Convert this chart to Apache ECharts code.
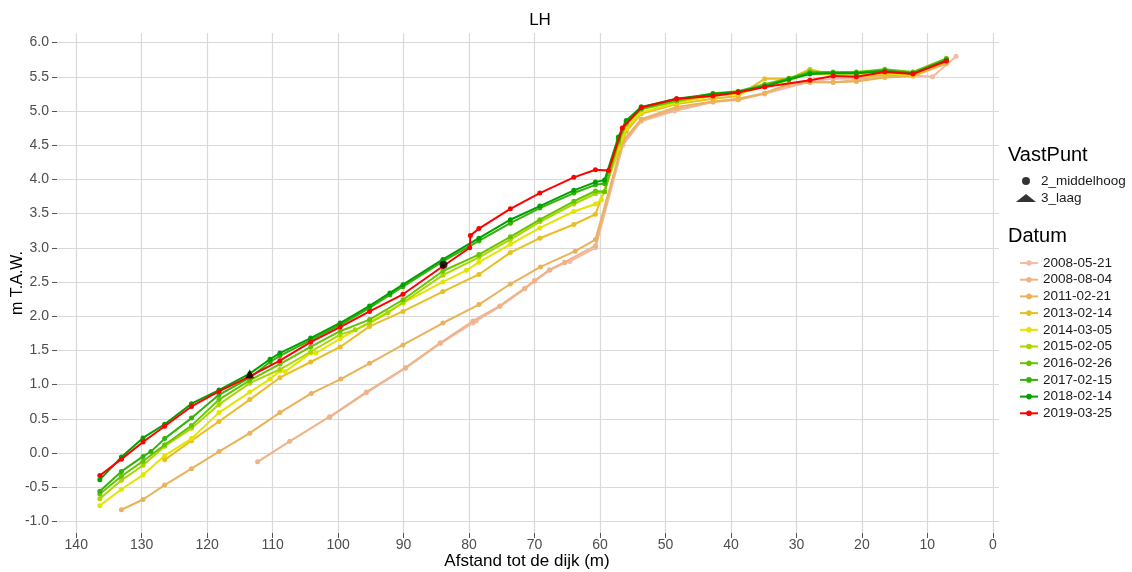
<!DOCTYPE html>
<html><head><meta charset="utf-8">
<script src="https://cdn.jsdelivr.net/npm/echarts@6/dist/echarts.min.js"></script>
<style>html,body{margin:0;padding:0;background:#fff}#c{width:1132px;height:572px}</style>
</head><body><div id="c"></div>
<script>
// ---- data ----
const datumNames = ['2008-05-21','2008-08-04','2011-02-21','2013-02-14','2014-03-05','2015-02-05','2016-02-26','2017-02-15','2018-02-14','2019-03-25'];
const d2008_05_21 = [[101.3,0.52],[95.7,0.88],[89.7,1.24],[84.4,1.60],[79.4,1.90],[78.9,1.93],[75.3,2.14],[71.5,2.40],[70.0,2.51],[67.7,2.67],[65.4,2.78],[64.6,2.80],[60.7,3.00],[56.5,4.50],[53.7,4.85],[48.6,5.00],[42.75,5.13],[38.9,5.16],[34.85,5.25],[27.95,5.43],[24.4,5.47],[20.85,5.47],[16.5,5.52],[12.2,5.52],[9.2,5.50],[5.6,5.80]];
const d2008_08_04 = [[112.3,-0.13],[107.4,0.17],[101.3,0.53],[95.7,0.89],[89.7,1.25],[84.4,1.61],[79.4,1.93],[75.3,2.15],[71.5,2.41],[70.0,2.52],[67.7,2.68],[65.4,2.79],[60.7,3.03],[56.5,4.55],[53.7,4.87],[48.3,5.03],[42.75,5.13],[38.9,5.18],[34.85,5.26],[31.15,5.38],[27.95,5.42],[24.4,5.42],[20.85,5.45],[16.5,5.50],[12.2,5.51],[7.1,5.69]];
const d2011_02_21 = [[133.1,-0.83],[129.8,-0.68],[126.5,-0.47],[122.4,-0.23],[118.2,0.02],[113.5,0.29],[108.9,0.59],[104.1,0.87],[99.6,1.08],[95.2,1.31],[90.1,1.58],[84.0,1.90],[78.5,2.17],[73.7,2.47],[69.1,2.72],[63.8,2.95],[60.7,3.12],[56.5,4.56],[53.7,4.88],[48.3,5.06],[42.75,5.14],[38.9,5.17],[34.85,5.26],[31.15,5.40],[27.95,5.42],[24.4,5.42],[20.85,5.43],[16.5,5.49],[12.2,5.51],[7.1,5.70]];
const d2013_02_14 = [[126.5,-0.10],[122.4,0.18],[118.2,0.46],[113.5,0.78],[108.9,1.10],[104.2,1.33],[99.7,1.55],[95.2,1.85],[90.1,2.07],[84.0,2.36],[78.5,2.61],[73.7,2.93],[69.2,3.14],[64.0,3.34],[60.7,3.49],[57.2,4.40],[56.0,4.70],[53.7,4.96],[48.3,5.10],[42.75,5.18],[38.9,5.22],[34.85,5.47],[31.15,5.47],[27.95,5.61],[24.4,5.52],[20.85,5.50],[16.5,5.53],[12.2,5.52],[7.1,5.72]];
const d2014_03_05 = [[136.4,-0.77],[133.1,-0.53],[129.8,-0.32],[126.5,-0.04],[122.4,0.21],[118.2,0.59],[113.5,0.89],[110.4,1.08],[108.9,1.20],[108.1,1.19],[104.2,1.46],[103.4,1.46],[99.7,1.67],[95.2,1.91],[90.1,2.19],[84.0,2.50],[80.4,2.67],[78.5,2.79],[73.7,3.05],[69.2,3.29],[64.0,3.53],[60.7,3.64],[59.8,3.70],[57.2,4.45],[56.0,4.75],[53.7,4.98],[48.3,5.12],[42.75,5.22],[38.9,5.25],[34.85,5.36],[31.15,5.45],[27.95,5.55],[24.4,5.53],[20.85,5.52],[16.5,5.55],[12.2,5.52],[7.1,5.74]];
const d2015_02_05 = [[136.4,-0.67],[133.1,-0.40],[129.8,-0.18],[126.5,0.10],[122.4,0.36],[118.2,0.71],[113.5,1.02],[108.9,1.22],[104.2,1.48],[99.7,1.73],[97.4,1.80],[95.2,1.90],[92.4,2.05],[90.1,2.20],[84.0,2.60],[78.5,2.86],[73.7,3.12],[69.2,3.38],[64.0,3.64],[60.7,3.79],[59.3,3.82],[57.2,4.52],[56.0,4.80],[53.7,5.02],[48.3,5.14],[42.75,5.24],[38.9,5.28],[34.85,5.38],[31.15,5.47],[27.95,5.59],[24.4,5.55],[20.85,5.55],[16.5,5.58],[12.2,5.55],[7.1,5.76]];
const d2016_02_26 = [[136.4,-0.60],[133.1,-0.34],[129.8,-0.12],[126.5,0.12],[122.4,0.40],[118.2,0.78],[113.5,1.06],[108.9,1.30],[104.2,1.55],[99.7,1.78],[95.2,1.95],[90.1,2.24],[84.0,2.66],[78.5,2.90],[73.7,3.16],[69.2,3.41],[64.0,3.68],[60.7,3.83],[59.3,3.82],[57.2,4.55],[56.0,4.82],[53.7,5.03],[48.3,5.15],[42.75,5.26],[38.9,5.29],[34.85,5.39],[31.15,5.48],[27.95,5.57],[24.4,5.57],[20.85,5.57],[16.5,5.61],[12.2,5.57],[7.1,5.77]];
const d2017_02_15 = [[136.4,-0.56],[133.1,-0.27],[129.8,-0.05],[128.6,0.02],[126.5,0.21],[122.4,0.51],[118.2,0.85],[113.5,1.10],[110.4,1.33],[108.9,1.42],[104.2,1.65],[99.7,1.87],[95.2,2.12],[92.1,2.31],[90.1,2.43],[84.0,2.80],[78.5,3.10],[73.7,3.36],[69.2,3.58],[64.0,3.80],[60.7,3.92],[59.3,3.94],[57.2,4.58],[56.0,4.84],[53.7,5.04],[48.3,5.17],[42.75,5.24],[38.9,5.28],[34.85,5.37],[31.15,5.47],[27.95,5.56],[24.4,5.56],[20.85,5.56],[16.5,5.59],[12.2,5.55],[7.1,5.75]];
const d2018_02_14 = [[136.4,-0.39],[133.1,-0.06],[129.8,0.22],[126.5,0.42],[122.4,0.72],[118.2,0.92],[113.5,1.16],[110.4,1.37],[108.9,1.46],[104.2,1.68],[99.7,1.90],[95.2,2.15],[92.1,2.34],[90.1,2.46],[84.0,2.83],[78.5,3.14],[73.7,3.41],[69.2,3.61],[64.0,3.84],[60.7,3.96],[59.3,3.99],[57.2,4.62],[56.0,4.86],[53.7,5.06],[48.3,5.18],[42.75,5.25],[38.9,5.28],[34.85,5.36],[31.15,5.46],[27.95,5.54],[24.4,5.55],[20.85,5.55],[16.5,5.58],[12.2,5.55],[7.1,5.74]];
const d2019_03_25 = [[136.4,-0.33],[133.1,-0.09],[129.8,0.16],[126.5,0.39],[122.4,0.68],[118.2,0.90],[113.5,1.12],[108.9,1.35],[104.2,1.62],[99.7,1.84],[95.2,2.07],[90.1,2.32],[84.0,2.73],[79.9,3.00],[79.8,3.18],[78.5,3.28],[73.7,3.57],[69.2,3.80],[64.0,4.03],[60.7,4.14],[58.7,4.13],[56.6,4.75],[53.7,5.05],[48.3,5.18],[42.75,5.22],[38.9,5.27],[34.85,5.35],[27.95,5.45],[24.4,5.51],[20.85,5.50],[16.5,5.57],[12.2,5.54],[7.1,5.73]];
const vastPuntNames = ['2_middelhoog','3_laag'];
const vp2_middelhoog = [[83.9,2.75]];
const vp3_laag = [[113.5,1.16]];
const xTickValues = [0,10,20,30,40,50,60,70,80,90,100,110,120,130,140];
const yTickValues = [-1,-0.5,0,0.5,1,1.5,2,2.5,3,3.5,4,4.5,5,5.5,6];
const xTitle = 'Afstand tot de dijk (m)';
const yTitle = 'm T.A.W.';
const chartTitle = 'LH';

// ---- chart ----
const datumData = [d2008_05_21,d2008_08_04,d2011_02_21,d2013_02_14,d2014_03_05,d2015_02_05,d2016_02_26,d2017_02_15,d2018_02_14,d2019_03_25];
const colors = ['#F2BBA6','#EEB488','#EAB25A','#E8BE24','#E4E400','#AAD600','#66C400','#33B20A','#00A000','#FF0000'];
const FONT = '"Liberation Sans", Arial, sans-serif';
const series = datumNames.map((n,i)=>({
  name:n, type:'line', data:datumData[i], color:colors[i],
  symbol:'circle', symbolSize:5, showSymbol:true,
  lineStyle:{width:2, color:colors[i]}, itemStyle:{color:colors[i]},
  z: 2+i*0.01, animation:false
}));
series.push({name:vastPuntNames[0], type:'scatter', data:vp2_middelhoog, symbol:'circle', symbolSize:8, itemStyle:{color:'#000'}, z:5});
series.push({name:vastPuntNames[1], type:'scatter', data:vp3_laag, symbol:'triangle', symbolSize:9, itemStyle:{color:'#000'}, z:5});

const chart = echarts.init(document.getElementById('c'), null, {renderer:'canvas'});
chart.setOption({
  animation:false,
  backgroundColor:'#fff',
  textStyle:{fontFamily:FONT},
  grid:{left:57, right:133, top:33, bottom:39, containLabel:false, outerBoundsMode:'none'},
  xAxis:{type:'value', inverse:true, min:-0.94, max:142.94,
    axisLine:{show:false, onZero:false},
    axisTick:{show:true, length:5, lineStyle:{color:'#555', width:1}, customValues:xTickValues},
    axisLabel:{customValues:xTickValues, fontSize:14, color:'#4D4D4D', margin:5, fontFamily:FONT},
    splitLine:{show:true, lineStyle:{color:'#D9D9D9', width:1.2}}
  },
  yAxis:{type:'value', min:-1.17, max:6.14,
    axisLine:{show:false, onZero:false},
    axisTick:{show:true, length:5, lineStyle:{color:'#555', width:1}, customValues:yTickValues},
    axisLabel:{customValues:yTickValues, fontSize:14, color:'#4D4D4D', margin:8, fontFamily:FONT,
      formatter:v=>Number(v).toFixed(1)},
    splitLine:{show:true, lineStyle:{color:'#D9D9D9', width:1.2}}
  },
  legend:[
    {data:vastPuntNames, orient:'vertical', left:1011, top:169, itemWidth:20, itemHeight:8, itemGap:3,
     textStyle:{fontSize:13.5, color:'#1a1a1a', fontFamily:FONT, lineHeight:14}, selectedMode:false},
    {data:datumNames, orient:'vertical', left:1014, top:251, itemWidth:18, itemHeight:7, itemGap:2.7,
     textStyle:{fontSize:13.5, color:'#1a1a1a', fontFamily:FONT, lineHeight:14}, selectedMode:false}
  ],
  graphic:[
    {type:'text', x:540, y:20, style:{text:chartTitle, fontSize:17, fontFamily:FONT, fill:'#000', align:'center', verticalAlign:'middle'}},
    {type:'text', x:527, y:561, style:{text:xTitle, fontSize:17, fontFamily:FONT, fill:'#000', align:'center', verticalAlign:'middle'}},
    {type:'text', x:18, y:283, rotation:Math.PI/2, style:{text:yTitle, fontSize:16, fontFamily:FONT, fill:'#000', align:'center', verticalAlign:'middle'}},
    {type:'text', x:1008, y:155, style:{text:'VastPunt', fontSize:20, fontFamily:FONT, fill:'#000', align:'left', verticalAlign:'middle'}},
    {type:'text', x:1008, y:236, style:{text:'Datum', fontSize:20, fontFamily:FONT, fill:'#000', align:'left', verticalAlign:'middle'}}
  ],
  series:series
});
</script></body></html>
